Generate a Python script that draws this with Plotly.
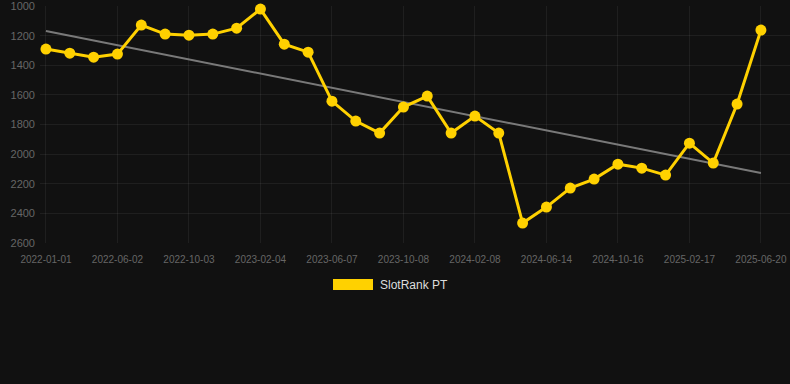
import numpy as np
import plotly.graph_objects as go

dates = [
    "2022-01-01", "2022-02-20", "2022-04-11", "2022-06-02", "2022-07-13", "2022-08-23",
    "2022-10-03", "2022-11-13", "2022-12-24", "2023-02-04", "2023-03-17", "2023-04-27",
    "2023-06-07", "2023-07-18", "2023-08-28", "2023-10-08", "2023-11-18", "2023-12-29",
    "2024-02-08", "2024-03-20", "2024-05-02", "2024-06-14", "2024-07-25", "2024-09-04",
    "2024-10-16", "2024-11-26", "2025-01-06", "2025-02-17", "2025-03-30", "2025-05-10",
    "2025-06-20",
]
rank = [
    1290, 1318, 1345, 1324, 1128, 1189, 1196, 1189, 1149, 1020,
    1257, 1311, 1642, 1777, 1858, 1682, 1608, 1858, 1743, 1858,
    2466, 2358, 2230, 2169, 2068, 2095, 2142, 1926, 2061, 1662,
    1162,
]
y_ticks = [1000, 1200, 1400, 1600, 1800, 2000, 2200, 2400, 2600]
series_name = "SlotRank PT"

idx = np.arange(len(rank))
slope, intercept = np.polyfit(idx, np.array(rank, dtype=float), 1)
trend = slope * idx + intercept

fig = go.Figure()
fig.add_trace(go.Scatter(
    x=idx, y=trend, mode="lines",
    line=dict(color="rgba(140,140,140,0.85)", width=2),
    showlegend=False, hoverinfo="skip",
))
fig.add_trace(go.Scatter(
    x=idx, y=rank, mode="lines+markers", name=series_name,
    line=dict(color="#FFD100", width=3),
    marker=dict(color="#FFD100", size=11),
    cliponaxis=False, showlegend=False,
))

grid = "rgba(255,255,255,0.06)"


def y_px_to_paper(ypx):
    return (243 - ypx) / 237


def x_px_to_paper(xpx):
    return (xpx - 40) / 750


fig.update_layout(
    width=790, height=384,
    paper_bgcolor="#111111", plot_bgcolor="#111111",
    margin=dict(l=40, r=0, t=6, b=141),
    font=dict(family="Liberation Sans, Arial, sans-serif", color="#666666", size=10),
    xaxis=dict(
        range=[-0.25, 31.22],
        tickmode="array", tickvals=list(idx[::3]), ticktext=dates[::3],
        showgrid=True, gridcolor=grid, gridwidth=1,
        zeroline=False, showline=False,
        ticks="", ticklabelstandoff=9, tickfont=dict(size=10, color="#666666"),
    ),
    yaxis=dict(
        range=[2601, 999],
        tickmode="array", tickvals=y_ticks,
        showgrid=True, gridcolor=grid, gridwidth=1,
        zeroline=False, showline=False,
        ticks="", ticklabelstandoff=4,
        tickfont=dict(size=11, color="#666666"),
    ),
    showlegend=False,
    shapes=[dict(
        type="rect", xref="paper", yref="paper",
        x0=x_px_to_paper(333), x1=x_px_to_paper(373),
        y0=y_px_to_paper(290), y1=y_px_to_paper(279),
        fillcolor="#FFD100", line=dict(width=0),
    )],
)
fig.add_annotation(
    xref="paper", yref="paper",
    x=x_px_to_paper(378), y=y_px_to_paper(284.5),
    xanchor="left", yanchor="middle", showarrow=False,
    text=series_name, font=dict(size=12, color="#dddddd"),
)

fig.write_html(
    "out.html",
    config={"displayModeBar": False},
    post_script="document.body.style.margin='0';document.body.style.background='#111111';",
)
